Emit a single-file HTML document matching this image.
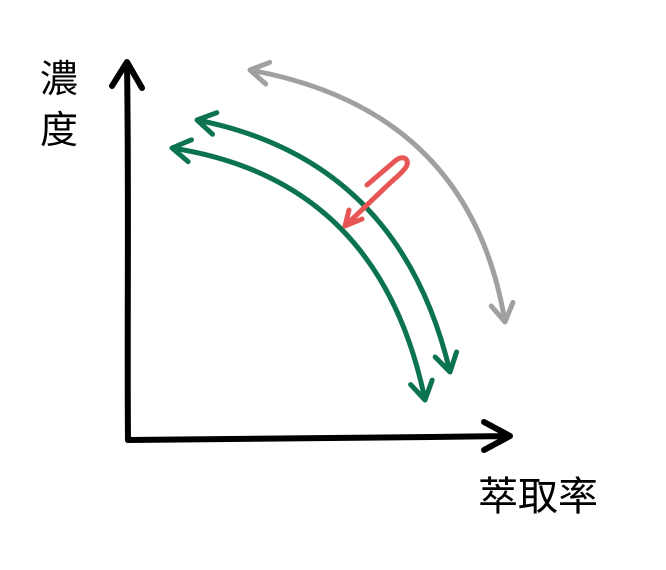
<!DOCTYPE html>
<html><head><meta charset="utf-8"><style>
html,body{margin:0;padding:0;background:#fff;width:666px;height:570px;overflow:hidden}
svg{display:block}
text{font-family:"Liberation Sans","Noto Sans CJK TC",sans-serif}
</style></head><body>
<svg id="c" width="666" height="570">
<g stroke="#000" stroke-width="6" fill="none" stroke-linecap="round" stroke-linejoin="round">
<path d="M128,440 C127,330 129,200 127,64 M112,86 L127,62 L142,88"/>
<path d="M128,440 C250,438 380,438 508,436 M484,422 L510,436 L484,450"/>
</g>
<text x="40" y="92" font-size="38">濃</text>
<text x="40" y="143" font-size="38">度</text>
<text x="478" y="510" font-size="40">萃取率</text>
<g id="curves"></g>
</svg>
<script>
const curveNames=['gray-curve','green-curve-upper','green-curve-lower'];
const curveStart=[[250,70],[197,120],[172,148]];
const curveCtrl=[[470,110],[400,160],[380,180]];
const curveEnd=[[505,322],[450,372],[425,400]];
const curveColors=['#a0a0a0','#0b7352','#0b7352'];
const g=document.getElementById('curves');
const NS='http://www.w3.org/2000/svg';
function head(tip,from){
  const dx=tip[0]-from[0],dy=tip[1]-from[1],l=Math.hypot(dx,dy),ux=dx/l,uy=dy/l;
  const L=18,W=11;
  const a=[tip[0]-ux*L-uy*W,tip[1]-uy*L+ux*W],b=[tip[0]-ux*L+uy*W,tip[1]-uy*L-ux*W];
  return `M${a[0]},${a[1]} L${tip[0]},${tip[1]} L${b[0]},${b[1]}`;
}
for(let i=0;i<curveNames.length;i++){
  const s=curveStart[i],c=curveCtrl[i],e=curveEnd[i];
  const p=document.createElementNS(NS,'path');
  
  
  p.setAttribute('d',`M${s[0]},${s[1]} Q${c[0]},${c[1]} ${e[0]},${e[1]} `+head(s,c)+' '+head(e,c));
  p.setAttribute('stroke',curveColors[i]);
  p.setAttribute('stroke-width','5');
  p.setAttribute('fill','none');
  p.setAttribute('stroke-linecap','round');
  p.setAttribute('stroke-linejoin','round');
  g.appendChild(p);
}
const r=document.createElementNS(NS,'path');


r.setAttribute('d','M367,185 L395,161 C402,155 409,158 407,165 C405,170 398,176 390,183 L345,226 M349,210 L345,226 L362,219');
r.setAttribute('stroke','#e85555');
r.setAttribute('stroke-width','5');
r.setAttribute('fill','none');
r.setAttribute('stroke-linecap','round');
r.setAttribute('stroke-linejoin','round');
g.appendChild(r);
</script>
</body></html>
